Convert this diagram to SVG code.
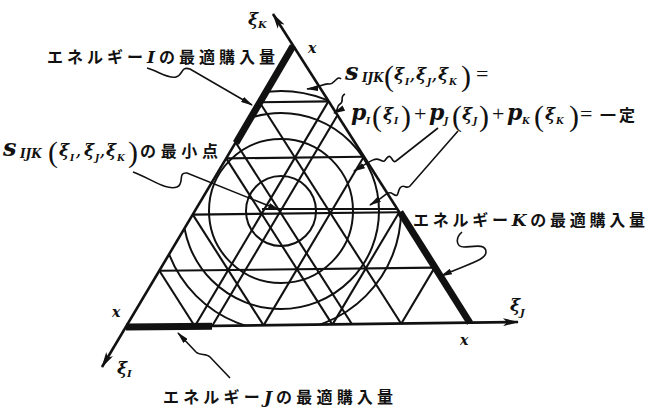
<svg xmlns="http://www.w3.org/2000/svg" width="661" height="408" viewBox="0 0 661 408">
<defs>
<style>
.ax{stroke:#111;stroke-width:2.6;fill:none}
.gr{stroke:#111;stroke-width:2.1;fill:none}
.ci{stroke:#111;stroke-width:2;fill:none}
.th{stroke:#111;stroke-width:7;fill:none;stroke-linecap:butt}
.co{stroke:#111;stroke-width:1.6;fill:none;marker-end:url(#ah)}
.jp{font-family:"Noto Sans CJK JP",sans-serif;font-weight:700;font-size:16px;fill:#111}
.mi{font-family:"DejaVu Serif",serif;font-style:italic;font-weight:700;fill:#111}
.mr{font-family:"Liberation Serif",serif;font-weight:400;font-style:normal;fill:#111}
</style>
<marker id="ax" markerWidth="16" markerHeight="8" refX="15" refY="4" orient="auto" markerUnits="userSpaceOnUse"><path d="M0,0 L16,4 L0,8 L4,4 z" fill="#111"/></marker>
<marker id="ah" markerWidth="12" markerHeight="6" refX="11" refY="3" orient="auto" markerUnits="userSpaceOnUse"><path d="M0,0 L12,3 L0,6 z" fill="#111"/></marker>
<clipPath id="tri"><polygon points="293,46 126,327 470,323"/></clipPath>
</defs>
<rect width="661" height="408" fill="#fff"/>

<g id="circles" class="ci" clip-path="url(#tri)">
<circle cx="281" cy="211" r="35"/>
<circle cx="281" cy="211" r="72"/>
<circle cx="281" cy="211" r="98"/>
<circle cx="281" cy="211" r="120"/>
</g>

<g id="lattice" class="gr">
<line x1="259.6" y1="102.2" x2="328.4" y2="101.4"/>
<line x1="226.2" y1="158.4" x2="363.8" y2="156.8"/>
<line x1="192.8" y1="214.6" x2="399.2" y2="212.2"/>
<line x1="159.4" y1="270.8" x2="434.6" y2="267.6"/>
<line x1="328.4" y1="101.4" x2="194.8" y2="326.2"/>
<line x1="363.8" y1="156.8" x2="263.6" y2="325.4"/>
<line x1="399.2" y1="212.2" x2="332.4" y2="324.6"/>
<line x1="434.6" y1="267.6" x2="401.2" y2="323.8"/>
<line x1="259.6" y1="102.2" x2="401.2" y2="323.8"/>
<line x1="226.2" y1="158.4" x2="332.4" y2="324.6"/>
<line x1="192.8" y1="214.6" x2="263.6" y2="325.4"/>
<line x1="159.4" y1="270.8" x2="194.8" y2="326.2"/>
<line x1="212" y1="326.2" x2="337" y2="116"/>
<line x1="236" y1="143" x2="352" y2="324.3"/>
<line x1="262" y1="209" x2="397" y2="209"/>
</g>

<g id="axes" class="ax">
<line x1="470" y1="323" x2="273" y2="14" marker-end="url(#ax)"/>
<line x1="293" y1="46" x2="102" y2="367" marker-end="url(#ax)"/>
<line x1="126" y1="327" x2="518" y2="322" marker-end="url(#ax)"/>
</g>

<g id="optimal-amounts" class="th">
<line x1="293" y1="46" x2="236" y2="143"/>
<line x1="400" y1="212" x2="470" y2="323"/>
<line x1="126" y1="327" x2="212" y2="326.2"/>
</g>

<g id="connectors">
<path class="co" d="M147,68 C158,71 168,79 176,77 C184,75 180,66 190,69 L252,105"/>
<path class="co" d="M133,172 C150,178 166,191 177,187 C185,184 177,172 187,173 L279,210"/>
<path class="co" d="M462,232 C455,238 456,247 464,247 C472,247 486,243 486,252 C486,260 470,263 441,276"/>
<path class="co" d="M230,378 L210,357 C206,353 200,356 196,352 L178,333"/>
<path class="co" d="M341,79 C337,75 334,85 329,84 C323,83 320,88 307,89"/>
<path class="co" d="M345,94 C339,97 345,101 340,104 C335,107 340,110 334,113"/>
<path class="co" d="M438,128 L396,161 C392,164 392,154 388,157 C384,160 386,163 380,160 C374,157 370,162 354,171"/>
<path class="co" d="M458,131 L410,186 C406,190 404,183 400,188 C397,193 399,198 393,194 C388,190 385,196 378,200 L370,205"/>
</g>

<g id="axis-labels">
<text class="mi" font-size="17" x="248" y="25">ξ<tspan font-size="10" y="28">K</tspan></text>
<text class="mi" font-size="14" x="308" y="53">x</text>
<text class="mi" font-size="14" x="112" y="317">x</text>
<text class="mi" font-size="17" x="117" y="374">ξ<tspan font-size="10" y="377">I</tspan></text>
<text class="mi" font-size="17" x="510" y="311">ξ<tspan font-size="10" y="316">J</tspan></text>
<text class="mi" font-size="14" x="460" y="345">x</text>
</g>

<g id="label-I">
<text class="jp" x="47" y="63" textLength="228" lengthAdjust="spacing">エネルギー<tspan class="mi" font-size="17">I</tspan>の最適購入量</text>
</g>

<g id="label-min">
<text class="mi" font-size="17" y="156"><tspan x="3" font-size="24">s</tspan><tspan x="20" y="158" font-size="12">IJK</tspan><tspan class="mr" x="48" y="162" font-size="30">(</tspan><tspan x="59" y="156">ξ</tspan><tspan x="70" y="161" font-size="9">I</tspan><tspan x="76" y="156" font-size="14">,</tspan><tspan x="84" y="156">ξ</tspan><tspan x="95" y="161" font-size="9">J</tspan><tspan x="100" y="156" font-size="14">,</tspan><tspan x="106" y="156">ξ</tspan><tspan x="117" y="161" font-size="9">K</tspan><tspan class="mr" x="128" y="162" font-size="30">)</tspan></text>
<text class="jp" x="140" y="157" textLength="78" lengthAdjust="spacing">の最小点</text>
</g>

<g id="label-equation">
<text class="mi" font-size="17" y="80"><tspan x="345" font-size="24">s</tspan><tspan x="362" y="82" font-size="12">IJK</tspan><tspan class="mr" x="384" y="86" font-size="30">(</tspan><tspan x="394" y="80">ξ</tspan><tspan x="405" y="85" font-size="9">I</tspan><tspan x="410" y="80" font-size="14">,</tspan><tspan x="416" y="80">ξ</tspan><tspan x="427" y="85" font-size="9">J</tspan><tspan x="432" y="80" font-size="14">,</tspan><tspan x="438" y="80">ξ</tspan><tspan x="449" y="85" font-size="9">K</tspan><tspan class="mr" x="461" y="86" font-size="30">)</tspan><tspan class="mr" x="476" y="81" font-size="22">=</tspan></text>
<text class="mi" font-size="17" y="120"><tspan x="351" font-size="22">p</tspan><tspan x="366" y="124" font-size="9">I</tspan><tspan class="mr" x="372" y="126" font-size="30">(</tspan><tspan x="383" y="120">ξ</tspan><tspan x="394" y="124" font-size="9">I</tspan><tspan class="mr" x="401" y="126" font-size="30">)</tspan><tspan class="mr" x="414" y="121" font-size="22">+</tspan><tspan x="429" y="120" font-size="22">p</tspan><tspan x="444" y="124" font-size="9">J</tspan><tspan class="mr" x="452" y="126" font-size="30">(</tspan><tspan x="462" y="120">ξ</tspan><tspan x="473" y="124" font-size="9">J</tspan><tspan class="mr" x="479" y="126" font-size="30">)</tspan><tspan class="mr" x="492" y="121" font-size="22">+</tspan><tspan x="507" y="120" font-size="22">p</tspan><tspan x="522" y="124" font-size="9">K</tspan><tspan class="mr" x="534" y="126" font-size="30">(</tspan><tspan x="545" y="120">ξ</tspan><tspan x="556" y="124" font-size="9">K</tspan><tspan class="mr" x="569" y="126" font-size="30">)</tspan><tspan class="mr" x="580" y="121" font-size="22">=</tspan></text>
<text class="jp" x="600" y="121" textLength="35" lengthAdjust="spacing">一定</text>
</g>

<g id="label-K">
<text class="jp" x="413" y="226" textLength="232" lengthAdjust="spacing">エネルギー<tspan class="mi" font-size="17">K</tspan>の最適購入量</text>
</g>

<g id="label-J">
<text class="jp" x="163" y="403" textLength="230" lengthAdjust="spacing">エネルギー<tspan class="mi" font-size="17">J</tspan>の最適購入量</text>
</g>
</svg>
